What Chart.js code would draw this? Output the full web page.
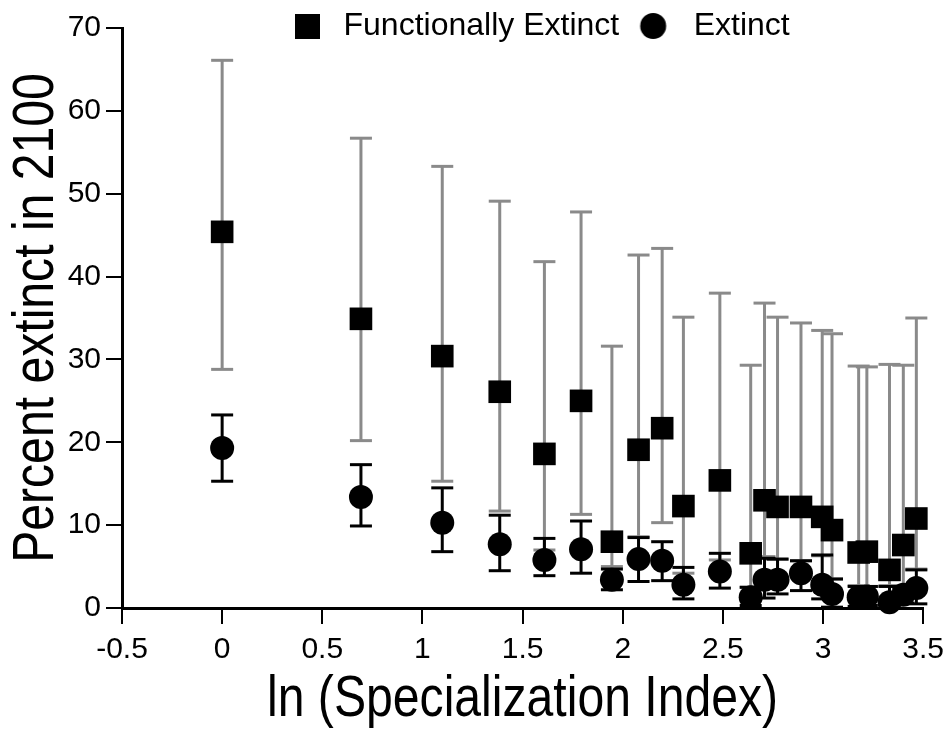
<!DOCTYPE html>
<html><head><meta charset="utf-8">
<script src="https://cdn.jsdelivr.net/npm/chart.js@4.4.1/dist/chart.umd.min.js"></script>
<style>html,body{margin:0;padding:0;background:#fff;}canvas{display:block;}</style>
</head><body>
<canvas id="c" width="952" height="734"></canvas>
<script>
// ln(Specialization Index) positions
const xValues = [0, 0.693, 1.099, 1.386, 1.609, 1.792, 1.946, 2.079, 2.197, 2.303, 2.485, 2.639, 2.708, 2.773, 2.890, 2.996, 3.045, 3.178, 3.219, 3.332, 3.401, 3.466];
// Functionally extinct (mean, upper, lower)
const feMean = [45.4, 34.9, 30.4, 26.1, 18.6, 25.0, 8.0, 19.1, 21.7, 12.3, 15.4, 6.6, 13.0, 12.2, 12.2, 11.0, 9.4, 6.7, 6.8, 4.6, 7.6, 10.8];
const feHigh = [66.1, 56.7, 53.3, 49.1, 41.8, 47.8, 31.6, 42.6, 43.4, 35.1, 38.0, 29.3, 36.8, 35.1, 34.4, 33.5, 33.1, 29.2, 29.1, 29.4, 29.3, 35.0];
const feLow  = [28.8, 20.2, 15.3, 11.7, 7.0, 11.3, 5.0, 8.6, 10.3, 4.2, 5.8, 2.5, 6.2, 5.9, 5.7, 6.3, 3.5, 2.7, 2.6, 2.7, 2.2, 4.7];
// Extinct (mean, upper, lower)
const exMean = [19.3, 13.4, 10.3, 7.7, 5.8, 7.1, 3.4, 5.9, 5.7, 2.8, 4.4, 1.3, 3.4, 3.4, 4.2, 2.8, 1.7, 1.3, 1.4, 0.7, 1.6, 2.4];
const exHigh = [23.3, 17.3, 14.5, 11.2, 8.4, 10.5, 4.7, 8.5, 8.0, 4.9, 6.6, 2.5, 6.0, 5.9, 5.7, 6.4, 3.5, 2.6, 2.6, 2.6, 2.4, 4.6];
const exLow  = [15.3, 9.9, 6.8, 4.5, 3.9, 4.2, 2.2, 3.2, 3.3, 1.1, 2.4, 0.3, 1.2, 1.7, 2.1, 1.1, 0.1, 0.2, 0.3, 0.1, 0.6, 0.5];

const xTickLabels = ['-0.5', '0', '0.5', '1', '1.5', '2', '2.5', '3', '3.5'];
const yTickLabels = ['0', '10', '20', '30', '40', '50', '60', '70'];
const seriesNames = ['Functionally Extinct', 'Extinct'];
const xTitle = 'ln (Specialization Index)';
const yTitle = 'Percent extinct in 2100';

const GRAY = '#8a8a8a';
const BLACK = '#000000';

function pts(ys) { return xValues.map((x, i) => ({x: x, y: ys[i]})); }
function whisker(lo, hi) {
  const out = [];
  xValues.forEach((x, i) => { out.push({x: x, y: lo[i]}, {x: x, y: hi[i]}, {x: x, y: null}); });
  return out;
}
function capPts(lo, hi) {
  const out = [];
  xValues.forEach((x, i) => { out.push({x: x, y: lo[i]}, {x: x, y: hi[i]}); });
  return out;
}

// legend marker images
const sqImg = document.createElement('canvas');
sqImg.width = 25; sqImg.height = 25;
(function(){ const g = sqImg.getContext('2d'); g.fillStyle = BLACK; g.fillRect(0,0,25,25); })();
const ciImg = document.createElement('canvas');
ciImg.width = 40; ciImg.height = 28;
(function(){ const g = ciImg.getContext('2d'); g.fillStyle = BLACK; g.beginPath(); g.arc(15.5,14,13,0,Math.PI*2); g.fill(); })();

const legendShift = {
  id: 'legendShift',
  afterLayout(chart) {
    const lg = chart.legend;
    if (!lg) return;
    lg.left = 269; lg.right = 952; lg.top = -8.5; lg.bottom = 70;
  }
};

// condensed axis titles (the original uses a narrow face)
const NARROW = 0.83;
const narrowTitles = {
  id: 'narrowTitles',
  beforeDraw(chart) {
    Object.values(chart.scales).forEach((sc) => {
      if (sc._narrowWrapped) return;
      const orig = sc.drawTitle;
      sc.drawTitle = function() {
        const ctx = this.ctx;
        ctx.save();
        if (this.isHorizontal()) {
          const cx = (this.left + this.right) / 2;
          ctx.translate(cx, 0); ctx.scale(NARROW, 1); ctx.translate(-cx, 0);
        } else {
          const cy = (this.top + this.bottom) / 2;
          ctx.translate(0, cy); ctx.scale(1, NARROW); ctx.translate(0, -cy);
        }
        orig.call(this);
        ctx.restore();
      };
      sc._narrowWrapped = true;
    });
  }
};

const tickFont = {family: "'Liberation Sans', Arial, sans-serif", size: 30};
const titleFont = {family: "'Liberation Sans', Arial, sans-serif", size: 58, lineHeight: 1};

new Chart(document.getElementById('c'), {
  type: 'line',
  data: {
    datasets: [
      { label: 'feWhisker', data: whisker(feLow, feHigh), borderColor: GRAY, borderWidth: 3, pointRadius: 0, spanGaps: false, order: 6, clip: false },
      { label: 'feCaps', data: capPts(feLow, feHigh), showLine: false, pointStyle: 'line', pointRadius: 11, pointBorderWidth: 3, borderColor: GRAY, pointBorderColor: GRAY, order: 5, clip: false },
      { label: seriesNames[0], data: pts(feMean), showLine: false, pointStyle: 'rect', pointRadius: 16, pointBackgroundColor: BLACK, pointBorderColor: BLACK, pointBorderWidth: 0, order: 4, clip: false },
      { label: 'exWhisker', data: whisker(exLow, exHigh), borderColor: BLACK, borderWidth: 3, pointRadius: 0, spanGaps: false, order: 3, clip: false },
      { label: 'exCaps', data: capPts(exLow, exHigh), showLine: false, pointStyle: 'line', pointRadius: 11, pointBorderWidth: 3, borderColor: BLACK, pointBorderColor: BLACK, order: 2, clip: false },
      { label: seriesNames[1], data: pts(exMean), showLine: false, pointStyle: 'circle', pointRadius: 12, pointBackgroundColor: BLACK, pointBorderColor: BLACK, pointBorderWidth: 0, order: 1, clip: false }
    ]
  },
  options: {
    responsive: false,
    animation: false,
    devicePixelRatio: 1,
    events: [],
    layout: { padding: { top: 27, right: 24, bottom: 0, left: 0 } },
    plugins: {
      tooltip: { enabled: false },
      legend: {
        display: true,
        position: 'top',
        align: 'start',
        maxHeight: 1,
        labels: {
          usePointStyle: true,
          pointStyleWidth: 40,
          padding: 18.5,
          color: BLACK,
          font: { family: "'Liberation Sans', Arial, sans-serif", size: 32 },
          generateLabels: () => [
            { text: seriesNames[0], pointStyle: sqImg, fillStyle: BLACK, strokeStyle: BLACK, lineWidth: 0, hidden: false, datasetIndex: 2, fontColor: BLACK },
            { text: seriesNames[1], pointStyle: ciImg, fillStyle: BLACK, strokeStyle: BLACK, lineWidth: 0, hidden: false, datasetIndex: 5, fontColor: BLACK }
          ]
        }
      }
    },
    scales: {
      x: {
        type: 'linear',
        min: -0.5, max: 3.5,
        afterFit: (s) => { s.height = 126; },
        afterBuildTicks: (s) => { s.ticks = xTickLabels.map(v => ({value: parseFloat(v)})); },
        ticks: {
          stepSize: 0.5, color: BLACK, font: tickFont, padding: 8, maxRotation: 0, autoSkip: false,
          callback: (v) => { const i = xTickLabels.findIndex(t => Math.abs(parseFloat(t) - v) < 1e-6); return i >= 0 ? xTickLabels[i] : ''; }
        },
        grid: { display: true, drawOnChartArea: false, drawTicks: true, tickLength: 16, color: BLACK, lineWidth: 2 },
        border: { display: true, color: BLACK, width: 3 },
        title: { display: true, text: xTitle, color: BLACK, font: titleFont, padding: { top: 0, bottom: 5 } }
      },
      y: {
        type: 'linear',
        min: 0, max: 70,
        afterFit: (s) => { s.width = 122; },
        afterBuildTicks: (s) => { s.ticks = yTickLabels.map(v => ({value: parseFloat(v)})); },
        ticks: {
          stepSize: 10, color: BLACK, font: tickFont, padding: 5, autoSkip: false,
          callback: (v) => { const i = yTickLabels.findIndex(t => Math.abs(parseFloat(t) - v) < 1e-6); return i >= 0 ? yTickLabels[i] : ''; }
        },
        grid: { display: true, drawOnChartArea: false, drawTicks: true, tickLength: 16, color: BLACK, lineWidth: 2 },
        border: { display: true, color: BLACK, width: 3 },
        title: { display: true, text: yTitle, color: BLACK, font: titleFont, padding: { top: 8, bottom: 0 } }
      }
    }
  },
  plugins: [legendShift, narrowTitles]
});
</script>
</body></html>
